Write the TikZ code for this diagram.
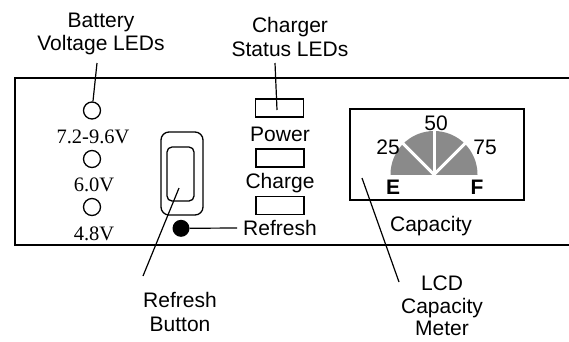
\documentclass[tikz,border=0pt]{standalone}
\usepackage{fontspec}
\setmainfont{Liberation Sans}
\newfontfamily\timesface{Liberation Serif}
\begin{document}
\begin{tikzpicture}[x=1pt,y=-1pt,
  lbl/.style={font=\fontsize{21}{23.5}\selectfont, align=center, inner sep=0pt},
  vlbl/.style={font=\timesface\fontsize{20.5}{23.5}\selectfont, inner sep=0pt},
  ledc/.style={draw, circle, line width=1.3pt, minimum size=17pt, inner sep=0pt},
  ledr/.style={draw, rectangle, line width=1.3pt, minimum width=48pt, minimum height=18pt, inner sep=0pt},
  lead/.style={line width=1.2pt},
  panel/.style={line width=2pt}]
\useasboundingbox (0,0) rectangle (569,341);

% panel
\coordinate (ptr) at (569,77.5);
\coordinate (ptl) at (15,77.5);
\coordinate (pbl) at (15,245);
\coordinate (pbr) at (569,245);
\draw[panel] (ptr) -- (ptl) -- (pbl) -- (pbr);

% battery voltage LEDs
\node[lbl] (batt) at (101,34) {Battery\\Voltage LEDs};
\node[ledc] (led1) at (92,110.5) {};
\node[ledc] (led2) at (92,159) {};
\node[ledc] (led3) at (92,207) {};
\node[vlbl] (v1) at (93,137) {7.2-9.6V};
\node[vlbl] (v2) at (94,185) {6.0V};
\node[vlbl] (v3) at (94,234) {4.8V};
\coordinate (battend) at (97,63);
\draw[lead] (battend) -- (led1);

% refresh button
\node[draw, line width=1.3pt, rounded corners=8pt, minimum width=42pt, minimum height=83pt, inner sep=0pt] (btnout) at (182,173.5) {};
\node[draw, line width=1.3pt, rounded corners=5pt, minimum width=27pt, minimum height=54pt, inner sep=0pt] (btnin) at (180.5,174) {};
\node[fill, circle, minimum size=17pt, inner sep=0pt] (dot) at (181,228.3) {};
\coordinate (btnpt) at (179,188);
\node[lbl] (btnlbl) at (180,312) {Refresh\\Button};
\coordinate (btnend) at (143,276);
\draw[lead] (btnpt) -- (btnend);

% charger status LEDs
\node[lbl] (chg) at (290,37) {Charger\\Status LEDs};
\node[ledr] (s1) at (279.5,108) {};
\node[ledr] (s2) at (280,158) {};
\node[ledr] (s3) at (280,205.5) {};
\node[lbl] (tpow) at (280,134) {Power};
\node[lbl] (tchg) at (280,183) {Charge};
\node[lbl] (tref) at (280,228) {Refresh};
\coordinate (chgend) at (275,63);
\coordinate (chgpt) at (277,110);
\draw[lead] (chgend) -- (chgpt);
\draw[lead] (dot) -- ([xshift=-6pt]tref.west);

% LCD meter
\node[draw, line width=1.5pt, minimum width=174pt, minimum height=91pt, inner sep=0pt] (lcd) at (437,154.5) {};
\coordinate (mc) at (434,174.5);
\begin{scope}
  \clip (388,174.5) rectangle (480,120);
  \fill[gray!92] (mc) circle[radius=43.5pt];
\end{scope}
\coordinate (g1) at (401,141.5);
\coordinate (g2) at (434,128);
\coordinate (g3) at (467,141.5);
\draw[white, line width=3pt] (g1) -- (mc) -- (g3);
\draw[white, line width=3pt] (mc) -- (g2);
\node[lbl] (t25) at (388,147) {25};
\node[lbl] (t50) at (436,123) {50};
\node[lbl] (t75) at (485,147) {75};
\node[lbl, font=\bfseries\fontsize{21}{23.5}\selectfont] (tE) at (393,187) {E};
\node[lbl, font=\bfseries\fontsize{21}{23.5}\selectfont] (tF) at (477,187) {F};
\node[lbl] (tcap) at (431,226) {Capacity};
\node[lbl, font=\fontsize{21}{22.5}\selectfont] (lcdlbl) at (442,306) {LCD\\Capacity\\Meter};
\coordinate (lcdpt) at (362,178);
\coordinate (lcdend) at (399,282);
\draw[lead] (lcdpt) -- (lcdend);
\end{tikzpicture}
\end{document}
